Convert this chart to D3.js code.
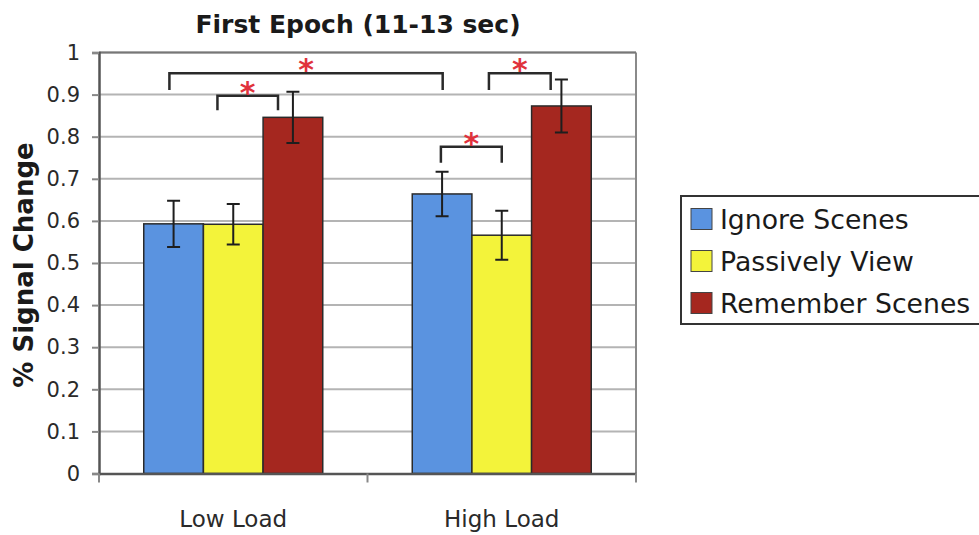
<!DOCTYPE html>
<html>
<head>
<meta charset="utf-8">
<script src="https://cdn.jsdelivr.net/npm/d3@7"></script>
<style>
  html, body { margin: 0; padding: 0; background: #fff; }
  svg { display: block; font-family: "DejaVu Sans", Verdana, sans-serif; }
</style>
</head>
<body>
<svg id="chart" width="979" height="535"></svg>
<script>
// Conditions along the x axis
const categories = ["Low Load", "High Load"];
// Series drawn inside each condition
const seriesNames = ["Ignore Scenes", "Passively View", "Remember Scenes"];
const seriesColors = ["#5a93e0", "#f3f33a", "#a5271f"];
// Mean % signal change per condition
const ignoreScenes = [0.593, 0.664];
const passivelyView = [0.592, 0.566];
const rememberScenes = [0.846, 0.873];
// Error bar half-widths
const ignoreErr = [0.055, 0.053];
const passivelyErr = [0.048, 0.058];
const rememberErr = [0.061, 0.063];
// Y axis ticks
const yTicks = [0, 0.1, 0.2, 0.3, 0.4, 0.5, 0.6, 0.7, 0.8, 0.9, 1];
const yTickLabels = ["0", "0.1", "0.2", "0.3", "0.4", "0.5", "0.6", "0.7", "0.8", "0.9", "1"];
// Significance brackets: endpoints as [category, series, fraction across bar], top and leg levels
const bracketFrom = [["Low Load", "Ignore Scenes", 0.43], ["Low Load", "Passively View", 0.235],
                     ["High Load", "Ignore Scenes", 0.48], ["High Load", "Passively View", 0.285]];
const bracketTo   = [["High Load", "Ignore Scenes", 0.51], ["Low Load", "Remember Scenes", 0.25],
                     ["High Load", "Passively View", 0.50], ["High Load", "Remember Scenes", 0.32]];
const bracketTop  = [0.951, 0.897, 0.776, 0.951];
const bracketLeg  = [0.911, 0.863, 0.738, 0.911];
const bracketMark = ["*", "*", "*", "*"];

const values = [ignoreScenes, passivelyView, rememberScenes];
const errors = [ignoreErr, passivelyErr, rememberErr];
const rows = [];
seriesNames.forEach((s, si) => categories.forEach((c, ci) => {
  rows.push({ series: s, category: c, value: values[si][ci], err: errors[si][ci], color: seriesColors[si] });
}));

const svg = d3.select("#chart");
const plotLeft = 99, plotRight = 636, plotTop = 52.5, plotBottom = 473.5;

const x0 = d3.scaleBand().domain(categories).range([plotLeft, plotRight]).padding(0);
const bw = x0.bandwidth();
const x1 = d3.scaleBand().domain(seriesNames).range([bw / 6, bw * 5 / 6]).padding(0);
const y = d3.scaleLinear().domain([0, 1]).range([plotBottom, plotTop]);

// Gridlines
svg.append("g").selectAll("line").data(yTicks.slice(1)).join("line")
  .attr("x1", plotLeft).attr("x2", plotRight)
  .attr("y1", d => y(d)).attr("y2", d => y(d))
  .attr("stroke", "#b4b4b4").attr("stroke-width", 2);

// Plot frame: top and right edges
svg.append("line").attr("x1", plotRight).attr("x2", plotRight).attr("y1", plotTop).attr("y2", plotBottom)
  .attr("stroke", "#8a8a8a").attr("stroke-width", 2);
svg.append("line").attr("x1", plotLeft).attr("x2", plotRight).attr("y1", plotTop).attr("y2", plotTop)
  .attr("stroke", "#777").attr("stroke-width", 2);

// Bars
svg.append("g").selectAll("rect").data(rows).join("rect")
  .attr("x", d => x0(d.category) + x1(d.series))
  .attr("width", x1.bandwidth())
  .attr("y", d => y(d.value))
  .attr("height", d => y(0) - y(d.value))
  .attr("fill", d => d.color)
  .attr("stroke", "#2a2a2a").attr("stroke-width", 1.5);

// Error bars
const eb = svg.append("g").attr("stroke", "#1e1e1e").attr("stroke-width", 2).attr("fill", "none");
rows.forEach(d => {
  const cx = x0(d.category) + x1(d.series) + x1.bandwidth() / 2;
  const hi = y(d.value + d.err), lo = y(d.value - d.err);
  eb.append("path").attr("d", `M${cx},${hi}V${lo}M${cx - 6.5},${hi}H${cx + 6.5}M${cx - 6.5},${lo}H${cx + 6.5}`);
});

// Y axis
const yAxis = d3.axisLeft(y).tickValues(yTicks).tickFormat((d, i) => yTickLabels[i]).tickSize(7).tickPadding(12);
const gy = svg.append("g").attr("transform", `translate(${plotLeft},0)`).call(yAxis);
gy.select(".domain").attr("stroke", "#555").attr("stroke-width", 2.5);
gy.selectAll(".tick line").attr("stroke", "#888").attr("stroke-width", 2);
gy.selectAll(".tick text").attr("font-size", 21).attr("fill", "#2a2a2a")
  .attr("font-family", "DejaVu Sans, Verdana, sans-serif");

// X axis
const xAxis = d3.axisBottom(x0).tickSize(0).tickPadding(37);
const gx = svg.append("g").attr("transform", `translate(0,${plotBottom})`).call(xAxis);
gx.select(".domain").attr("stroke", "#555").attr("stroke-width", 2.5);
gx.selectAll(".tick text").attr("font-size", 23).attr("fill", "#2a2a2a")
  .attr("font-family", "DejaVu Sans, Verdana, sans-serif");
// Category boundary ticks
svg.append("g").selectAll("line").data([...categories.map(c => x0(c)), plotRight]).join("line")
  .attr("x1", d => d).attr("x2", d => d).attr("y1", plotBottom).attr("y2", plotBottom + 9)
  .attr("stroke", "#888").attr("stroke-width", 2);

// Significance brackets
const bx = e => x0(e[0]) + x1(e[1]) + x1.bandwidth() * e[2];
const bg = svg.append("g");
bracketFrom.forEach((f, i) => {
  const xa = bx(f), xb = bx(bracketTo[i]);
  const yt = y(bracketTop[i]), yl = y(bracketLeg[i]);
  bg.append("path").attr("d", `M${xa},${yl}V${yt}H${xb}V${yl}`)
    .attr("fill", "none").attr("stroke", "#2a2a2a").attr("stroke-width", 2.5);
  bg.append("text").attr("x", (xa + xb) / 2).attr("y", yt + 7)
    .attr("text-anchor", "middle").attr("font-size", 30).attr("font-weight", "bold")
    .attr("fill", "#e0323c").text(bracketMark[i]);
});

// Title
svg.append("text").attr("x", 358).attr("y", 33).attr("text-anchor", "middle")
  .attr("font-size", 25).attr("font-weight", "bold").attr("fill", "#1a1a1a")
  .text("First Epoch (11-13 sec)");

// Y axis title
svg.append("text").attr("transform", "translate(33,265) rotate(-90)").attr("text-anchor", "middle")
  .attr("font-size", 26).attr("font-weight", "bold").attr("fill", "#1a1a1a")
  .text("% Signal Change");

// Legend
const lg = svg.append("g");
lg.append("rect").attr("x", 681).attr("y", 196).attr("width", 320).attr("height", 128)
  .attr("fill", "#fff").attr("stroke", "#333").attr("stroke-width", 2);
seriesNames.forEach((s, i) => {
  const cy = 219 + i * 42;
  lg.append("rect").attr("x", 691).attr("y", cy - 10.5).attr("width", 21).attr("height", 21)
    .attr("fill", seriesColors[i]).attr("stroke", "#444").attr("stroke-width", 1);
  lg.append("text").attr("x", 720).attr("y", cy).attr("dy", "0.36em")
    .attr("font-size", 26.7).attr("fill", "#1a1a1a").text(s);
});
</script>
</body>
</html>
